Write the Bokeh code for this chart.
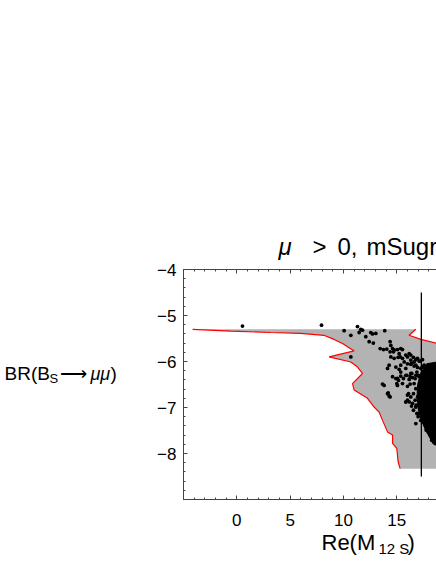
from bokeh.plotting import figure
from bokeh.layouts import column, row
from bokeh.models import LinearAxis, FixedTicker, CustomJSTickFormatter
from bokeh.core.properties import value
from bokeh.embed import file_html
from bokeh.resources import INLINE

# ---------------- data ----------------
# left (red) boundary of the allowed region, from the top-left tip downwards
bound_left_x = [-4.15, -0.56, 3.19, 6.0, 8.16, 9.12, 9.91, 10.38, 11.0, 8.65, 10.69, 11.32,
                11.78, 10.85, 11.0, 12.25, 12.87, 13.34, 13.66, 14.13, 14.6, 14.6, 15.0, 15.12, 15.31]
bound_left_y = [-5.30, -5.34, -5.37, -5.39, -5.43, -5.52, -5.61, -5.68, -5.77, -5.90, -6.01, -6.12,
                -6.26, -6.48, -6.62, -6.80, -6.99, -7.10, -7.28, -7.53, -7.60, -7.78, -7.89, -8.18, -8.33]
# right (red) boundary, starting at the end of the flat top edge
bound_right_x = [16.78, 16.15, 17.25, 18.82, 21.0]
bound_right_y = [-5.30, -5.43, -5.52, -5.61, -5.73]
region_far_x = 21.0
region_bottom_y = -8.33

# dense core of the scan points
core_x = [17.8, 19.5, 19.5, 18.7, 18.2, 17.75, 17.3, 17.0, 16.9, 16.95, 17.25]
core_y = [-6.05, -5.98, -7.9, -7.83, -7.7, -7.52, -7.28, -7.03, -6.75, -6.5, -6.25]

# individual scan points
pts_x = [0.53, 7.94, 10.06, 11.31, 11.62, 11.47, 11.78, 10.69, 12.09, 12.56, 12.72, 13.03, 13.87,
         12.41, 12.80, 14.37, 14.44, 14.37,
         13.44, 13.75, 14.06, 14.60, 14.75, 15.06, 15.37, 15.53, 14.69, 15.22,
         10.69,
         14.44, 14.75, 15.12, 15.31, 15.53, 15.84, 16.16, 16.31, 16.62, 16.94, 17.19, 15.69, 16.00,
         16.31, 16.78, 17.41, 14.28, 15.37, 16.00, 16.31, 16.56, 16.78, 17.09, 17.41,
         14.13, 14.91, 15.22, 15.84, 16.38, 16.62, 16.94, 17.25, 17.56, 17.87, 18.19, 18.50,
         14.60, 14.91, 15.37, 15.84, 16.31, 16.47, 16.16, 16.78, 17.09, 15.37, 15.06, 15.62, 16.25,
         16.88, 17.03, 16.72, 16.41, 15.94,
         13.81, 13.66, 15.06, 15.00, 15.16, 15.53, 16.00, 16.25, 16.62, 16.78,
         14.19, 14.37, 14.13, 14.28, 16.00, 16.31, 16.56, 16.10, 16.16, 16.47, 16.38, 16.78, 15.84,
         16.00, 16.72, 16.81, 16.94, 17.09,
         16.88, 17.00, 16.78, 16.56, 17.03,
         17.25, 17.56, 17.81, 17.94, 18.19, 18.34, 18.44, 18.59, 17.75, 18.12, 18.59, 18.28]
pts_y = [-5.23, -5.21, -5.33, -5.24, -5.30, -5.37, -5.32, -5.43, -5.46, -5.37, -5.40, -5.39, -5.33,
         -5.57, -5.60, -5.57, -5.65, -5.79,
         -5.72, -5.74, -5.73, -5.72, -5.75, -5.74, -5.72, -5.74, -5.79, -5.83,
         -5.90,
         -5.90, -5.93, -5.91, -5.90, -5.93, -5.86, -5.83, -5.97, -6.01, -5.93, -5.99, -6.01, -6.05,
         -6.06, -6.08, -6.12, -6.08, -6.08, -5.90, -5.86, -5.91, -5.96, -5.99, -5.96,
         -6.15, -6.12, -6.17, -6.15, -6.04, -6.10, -6.13, -6.15, -6.08, -6.12, -6.13, -6.17,
         -6.33, -6.37, -6.32, -6.30, -6.26, -6.35, -6.39, -6.30, -6.33, -6.23, -6.37, -6.37, -6.33,
         -6.23, -6.30, -6.37, -6.26, -6.30,
         -6.52, -6.49, -6.52, -6.48, -6.41, -6.48, -6.54, -6.49, -6.48, -6.59,
         -6.68, -6.77, -6.70, -6.75, -6.73, -6.77, -6.70, -6.70, -6.88, -6.91, -6.97, -6.99, -6.88,
         -6.84, -6.84, -6.95, -6.77, -6.95,
         -7.13, -7.20, -7.35, -7.06, -7.13,
         -7.28, -7.31, -7.38, -7.49, -7.53, -7.64, -7.75, -7.78, -7.49, -7.53, -7.64, -7.71]

# experimental Delta M_s line
ms_exp = 17.3
ms_line_top = -4.5
ms_line_bottom = -8.5

x_major = [0, 5, 10, 15]
x_minor = list(range(-5, 19))
y_major = [-8, -7, -6, -5, -4]
y_minor = [round(-9 + 0.2 * i, 1) for i in range(26)]

title_parts = ["\u03bc", ">", "0,", "mSugra"]
xlabel_parts = ["Re(M", "12 S", ")"]
ylabel_parts = ["BR(B", "S", "\u27f6", "\u03bc\u03bc", ")"]

X_LO, X_HI = -5.0, 18.72
Y_LO, Y_HI = -9.0, -4.0

# ---------------- layout geometry (page pixels) ----------------
PAGE_L, PAGE_T = 0, 0
TOTAL_W = 436
TITLE_H = 260
YLAB_W = 130
MAIN_W = TOTAL_W - YLAB_W
MAIN_TOP, MAIN_BOT, MAIN_LEFT = 9, 30, 53
FRAME_H = 230
MAIN_H = MAIN_TOP + FRAME_H + MAIN_BOT
XLAB_H = 564 - TITLE_H - MAIN_H


def text_fig(w, h):
    f = figure(width=w, height=h, x_range=(0, w), y_range=(0, h), title=None,
               output_backend="svg", toolbar_location=None,
               x_axis_location=None, y_axis_location=None,
               min_border=0)
    f.outline_line_color = None
    f.grid.visible = False
    f.background_fill_color = "white"
    f.border_fill_color = "white"
    return f


def put(f, left, bottom, text, px, py_mid, size, italic=False):
    f.text(x=[px - left], y=[bottom - py_mid], text=[text],
           text_font=value("Liberation Sans"), text_font_size=value(f"{size}px"),
           text_font_style=value("italic" if italic else "normal"),
           text_color="black", text_align=value("left"), text_baseline=value("middle"))


# ---------------- title ----------------
ft = text_fig(TOTAL_W, TITLE_H)
t_left, t_bottom = PAGE_L, PAGE_T + TITLE_H
put(ft, t_left, t_bottom, title_parts[0], 278, 246, 24, italic=True)
put(ft, t_left, t_bottom, title_parts[1], 312, 246, 24)
put(ft, t_left, t_bottom, title_parts[2], 337, 246, 24)
put(ft, t_left, t_bottom, title_parts[3], 366, 246, 24)

# ---------------- y label ----------------
fy = text_fig(YLAB_W, MAIN_H)
y_left, y_bottom = PAGE_L, PAGE_T + TITLE_H + MAIN_H
put(fy, y_left, y_bottom, ylabel_parts[0], 4, 382, 19)
put(fy, y_left, y_bottom, ylabel_parts[1], 49, 388, 13)
put(fy, y_left, y_bottom, ylabel_parts[2], 59, 382, 19)
put(fy, y_left, y_bottom, ylabel_parts[3], 90, 382, 18, italic=True)
put(fy, y_left, y_bottom, ylabel_parts[4], 110, 382, 19)

# ---------------- main plot ----------------
p = figure(width=MAIN_W, height=MAIN_H, x_range=(X_LO, X_HI), y_range=(Y_LO, Y_HI),
           output_backend="svg", toolbar_location=None,
           x_axis_location=None, y_axis_location=None,
           min_border_left=MAIN_LEFT, min_border_right=0,
           min_border_top=MAIN_TOP, min_border_bottom=MAIN_BOT)
p.outline_line_color = None
p.grid.visible = False
p.background_fill_color = "white"
p.border_fill_color = "white"

poly_x = bound_right_x + [region_far_x] + bound_left_x[::-1]
poly_y = bound_right_y + [region_bottom_y] + bound_left_y[::-1]
p.patch(poly_x, poly_y, fill_color="#b3b3b3", line_color=None)
p.line(bound_left_x, bound_left_y, line_color="#ff0000", line_width=1.2)
p.line(bound_right_x, bound_right_y, line_color="#ff0000", line_width=1.2)

p.patch(core_x, core_y, fill_color="black", line_color="black", line_width=1)
p.scatter(pts_x, pts_y, size=3.8, marker="circle", fill_color="black", line_color=None)

p.segment(x0=[ms_exp], y0=[ms_line_top], x1=[ms_exp], y1=[ms_line_bottom],
          line_color="black", line_width=1.3)

fmt = CustomJSTickFormatter(code="return tick < 0 ? '\u2212' + Math.abs(tick) : String(tick);")
axis_style = dict(major_tick_in=4, major_tick_out=0, minor_tick_in=2, minor_tick_out=0,
                  axis_line_color="#444444", major_tick_line_color="#444444",
                  minor_tick_line_color="#444444",
                  major_label_text_font="Liberation Sans", major_label_text_font_size="17px",
                  major_label_text_color="black")
xb = LinearAxis(ticker=FixedTicker(ticks=x_major, minor_ticks=x_minor), formatter=fmt,
                major_label_standoff=14, **axis_style)
p.add_layout(xb, "below")
xt = LinearAxis(ticker=FixedTicker(ticks=x_major, minor_ticks=x_minor),
                major_label_standoff=0, **axis_style)
xt.major_label_text_color = None
xt.major_label_text_font_size = "1px"
p.add_layout(xt, "above")
yl = LinearAxis(ticker=FixedTicker(ticks=y_major, minor_ticks=y_minor), formatter=fmt,
                major_label_standoff=7, **axis_style)
p.add_layout(yl, "left")

# ---------------- x label ----------------
fx = text_fig(TOTAL_W, XLAB_H)
x_left, x_bottom = PAGE_L, PAGE_T + TITLE_H + MAIN_H + XLAB_H
put(fx, x_left, x_bottom, xlabel_parts[0], 321, 542, 22)
put(fx, x_left, x_bottom, xlabel_parts[1], 378, 548, 15)
put(fx, x_left, x_bottom, xlabel_parts[2], 407, 542, 22)

layout = column(ft, row(fy, p, spacing=0), fx, spacing=0)

open("out.html", "w", encoding="utf-8").write(file_html(layout, INLINE))
